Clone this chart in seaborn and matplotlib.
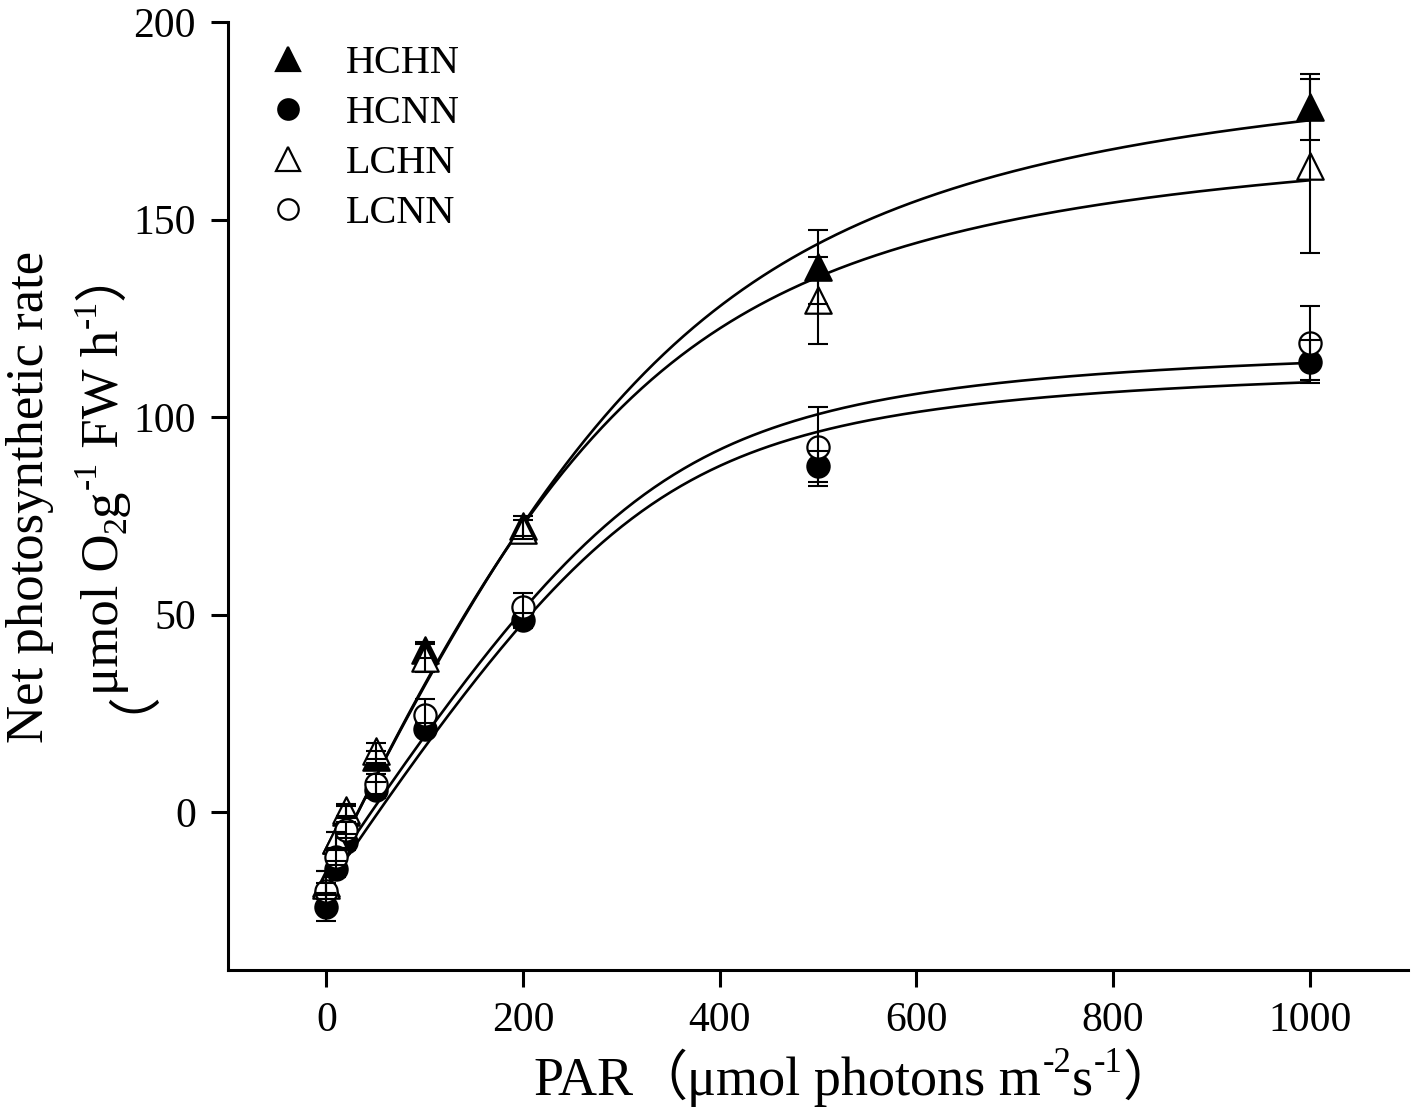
import numpy as np
import pandas as pd
import matplotlib
matplotlib.use("Agg")
import matplotlib.pyplot as plt
from matplotlib.lines import Line2D
import seaborn as sns

# ---- data ----
PAR = [0, 10, 20, 50, 100, 200, 500, 1000]
groups = ["HCHN", "HCNN", "LCHN", "LCNN"]

HCHN = [-18, -7, 0, 14, 41, 72.5, 138, 178.5]
HCHN_err = [3, 2, 1.5, 1.5, 2, 2.5, 9.4, 8.3]
HCNN = [-24, -14.5, -7.5, 5.5, 21, 48.5, 87.5, 114]
HCNN_err = [3.5, 2, 2, 2, 1.5, 2, 4, 5.5]
LCHN = [-18.5, -7, 0.5, 15.5, 39, 71.5, 129.5, 163.5]
LCHN_err = [3.5, 2, 1.5, 2, 3.5, 2.5, 11, 22]
LCNN = [-20, -11.5, -4.5, 7, 24.5, 52, 92.5, 118.8]
LCNN_err = [2, 2, 2, 2.5, 4, 3.5, 10, 9.4]

# fitted light-response curves (non-rectangular hyperbola), per group
curve_Pmax = [214.25, 134.82, 194.53, 137.55]
curve_alpha = [0.508, 0.369, 0.521, 0.373]
curve_theta = [0.8, 0.9, 0.8, 0.9]
curve_Rd = [16.06, 19.22, 16.53, 16.82]

x_ticks = [0, 200, 400, 600, 800, 1000]
y_ticks = [0, 50, 100, 150, 200]

markers = {"HCHN": "^", "HCNN": "o", "LCHN": "^", "LCNN": "o"}
faces = {"HCHN": "black", "HCNN": "black", "LCHN": "white", "LCNN": "white"}
msize = {"^": 19, "o": 16}

SERIF = "Liberation Serif"
CJK = "Noto Sans CJK SC"


def nrh(I, pmax, alpha, theta, rd):
    a = alpha * I + pmax
    return (a - np.sqrt(a ** 2 - 4 * theta * alpha * I * pmax)) / (2 * theta) - rd


pts = pd.DataFrame({
    "PAR": PAR * 4,
    "rate": HCHN + HCNN + LCHN + LCNN,
    "err": HCHN_err + HCNN_err + LCHN_err + LCNN_err,
    "group": sum([[g] * len(PAR) for g in groups], []),
})

Igrid = np.linspace(0, 1000, 400)
curves = pd.concat([
    pd.DataFrame({"PAR": Igrid, "rate": nrh(Igrid, p, a, t, r), "group": g})
    for g, p, a, t, r in zip(groups, curve_Pmax, curve_alpha, curve_theta, curve_Rd)
])

sns.set_style("ticks", {"text.color": "black", "axes.labelcolor": "black",
                        "xtick.color": "black", "ytick.color": "black",
                        "axes.edgecolor": "black"})
plt.rcParams["font.family"] = [SERIF, "DejaVu Serif", CJK]
plt.rcParams["axes.unicode_minus"] = False

fig = plt.figure(figsize=(14.15, 11.14), dpi=100)
ax = fig.add_axes([228 / 1415, 144 / 1114, 1180 / 1415, 948 / 1114])

sns.lineplot(data=curves, x="PAR", y="rate", units="group", estimator=None,
             color="black", lw=1.9, ax=ax, zorder=2, legend=False)

for g in groups:
    sub = pts[pts.group == g]
    mk = markers[g]
    sns.scatterplot(data=sub, x="PAR", y="rate", marker=mk, s=msize[mk] ** 2,
                    color=faces[g], edgecolor="black", linewidth=1.6,
                    ax=ax, zorder=3, legend=False)
for g in groups:
    sub = pts[pts.group == g]
    ax.errorbar(sub["PAR"], sub["rate"], yerr=sub["err"], fmt="none",
                ecolor="black", elinewidth=1.5, capsize=7, capthick=1.5, zorder=4)

ax.set_xlim(-100, 1100)
ax.set_ylim(-40, 200)
ax.set_xticks(x_ticks)
ax.set_yticks(y_ticks)
ax.set_xlabel("")
ax.set_ylabel("")
sns.despine(ax=ax)
for s in ["left", "bottom"]:
    ax.spines[s].set_linewidth(2.2)
ax.tick_params(axis="both", direction="out", length=12, width=2.2,
               labelsize=30, pad=11)

handles = [Line2D([], [], ls="none", marker=markers[g], ms=msize[markers[g]] * 0.92,
                  mfc=faces[g], mec="black", mew=1.6) for g in groups]
ax.legend(handles, groups, loc="upper left", bbox_to_anchor=(0.0203, 0.993),
          frameon=False, fontsize=29, handlelength=1.0, handletextpad=0.92,
          labelspacing=0.32, borderaxespad=0)


# ---- axis labels built from text pieces (fullwidth brackets + super/subscripts) ----
H = 1114


def chain(pieces, fs, base, vertical):
    arts = []
    prev = None
    for s, fam, scale, rise, shift in pieces:
        kw = dict(fontsize=fs * scale, family=fam, color="black", annotation_clip=False,
                  ha="left", va="baseline", textcoords="offset points")
        if vertical:
            kw.update(rotation=90, rotation_mode="anchor")
            off = (-rise * fs, shift)
            if prev is None:
                t = ax.annotate(s, xy=(base, 0), xycoords="figure pixels", xytext=off, **kw)
            else:
                t = ax.annotate(s, xy=(base, 1.0), xycoords=("figure pixels", prev),
                                xytext=off, **kw)
        else:
            off = (shift, rise * fs)
            if prev is None:
                t = ax.annotate(s, xy=(0, base), xycoords="figure pixels", xytext=off, **kw)
            else:
                t = ax.annotate(s, xy=(1.0, base), xycoords=(prev, "figure pixels"),
                                xytext=off, **kw)
        arts.append(t)
        prev = t
    return arts


def center(arts, c, base, vertical):
    fig.canvas.draw()
    r = fig.canvas.get_renderer()
    bbs = [a.get_window_extent(r) for a in arts]
    x0, y0 = arts[0].xy
    if vertical:
        lo, hi = min(b.y0 for b in bbs), max(b.y1 for b in bbs)
        arts[0].xy = (base, y0 + c - (lo + hi) / 2)
    else:
        lo, hi = min(b.x0 for b in bbs), max(b.x1 for b in bbs)
        arts[0].xy = (x0 + c - (lo + hi) / 2, base)


SUP, SUB, SS = 0.42, -0.14, 0.64
xl = chain([("PAR", SERIF, 1, 0, 0), ("（", CJK, 1, 0, 0),
            ("μmol photons m", SERIF, 1, 0, 0),
            ("-2", SERIF, SS, SUP, 1), ("s", SERIF, 1, 0, 0), ("-1", SERIF, SS, SUP, 1),
            ("）", CJK, 1, 0, 0)], 39, H - 1095, vertical=False)
yl1 = chain([("Net photosynthetic rate", SERIF, 1, 0, 0)], 38, 43, vertical=True)
yl2 = chain([("（", CJK, 1, 0, 0), ("μmol O", SERIF, 1, 0, -25), ("2", SERIF, SS, SUB, 0),
             ("g", SERIF, 1, 0, 0), ("-1", SERIF, SS, SUP, 1), (" FW h", SERIF, 1, 0, 0),
             ("-1", SERIF, SS, SUP, 1), ("）", CJK, 1, 0, 0)], 38, 118, vertical=True)

center(xl, 855, H - 1095, vertical=False)
center(yl1, H - 496.5, 43, vertical=True)
center(yl2, 634, 118, vertical=True)

fig.savefig("out.png", dpi=100)
